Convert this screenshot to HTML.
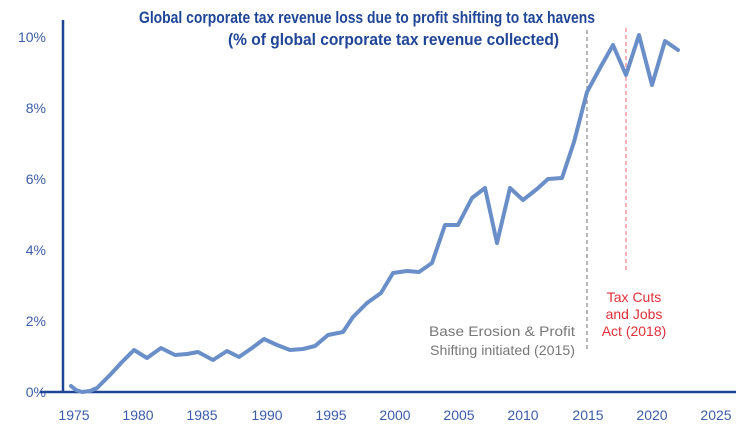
<!DOCTYPE html>
<html><head><meta charset="utf-8"><style>
html,body{margin:0;padding:0;background:#fff;}
svg{display:block;font-family:"Liberation Sans",sans-serif;}
</style></head><body>
<svg width="756" height="430" viewBox="0 0 756 430">
<g font-family="Liberation Sans, sans-serif" font-weight="bold" fill="#1f4596" font-size="16.5">
<text x="139" y="23" textLength="456" lengthAdjust="spacingAndGlyphs">Global corporate tax revenue loss due to profit shifting to tax havens</text>
<text x="228" y="45" textLength="331" lengthAdjust="spacingAndGlyphs">(% of global corporate tax revenue collected)</text>
</g>
<g fill="#3b5ca8" font-size="14" text-anchor="end">
<text x="46" y="42">10%</text>
<text x="46" y="113">8%</text>
<text x="46" y="184">6%</text>
<text x="46" y="255">4%</text>
<text x="46" y="326">2%</text>
<text x="46" y="397">0%</text>
</g>
<g fill="#3b5ca8" font-size="14" text-anchor="middle">
<text x="74" y="420">1975</text><text x="138" y="420">1980</text><text x="202" y="420">1985</text>
<text x="267" y="420">1990</text><text x="331" y="420">1995</text><text x="395" y="420">2000</text>
<text x="459" y="420">2005</text><text x="523" y="420">2010</text><text x="588" y="420">2015</text>
<text x="652" y="420">2020</text><text x="716" y="420">2025</text>
</g>
<line x1="587" y1="30" x2="587" y2="352" stroke="#888" stroke-width="1.2" stroke-dasharray="4,3"/>
<line x1="626" y1="28" x2="626" y2="272" stroke="#f08080" stroke-width="1.2" stroke-dasharray="4,3"/>
<g fill="#777" font-size="14">
<text x="429" y="336" textLength="146" lengthAdjust="spacingAndGlyphs">Base Erosion &amp; Profit</text>
<text x="430" y="355" textLength="145" lengthAdjust="spacingAndGlyphs">Shifting initiated (2015)</text>
</g>
<g fill="#e0303a" font-size="14" text-anchor="middle">
<text x="634" y="302">Tax Cuts</text>
<text x="634" y="319">and Jobs</text>
<text x="634" y="336">Act (2018)</text>
</g>
<line x1="63" y1="20" x2="63" y2="393" stroke="#1f4596" stroke-width="2.5"/>
<line x1="40" y1="392" x2="736" y2="392" stroke="#1f4596" stroke-width="2.5"/>
<polyline fill="none" stroke="#6a8fc8" stroke-width="4" stroke-linejoin="round" stroke-linecap="round"
points="71,386 76,390 82,392 90,391 97,388 110,375 122,362 134,350 147,358 161,348 175,355 187,354 198,352 213,360 227,351 239,357 252,348 264,339 277,345 290,350 303,349 315,346 328,335 343,332 353,317 367,303 381,293 393,273 407,271 419,272 432,263 445,225 458,225 472,198 485,188 497,243 510,188 523,200 537,189 548,179 562,178 574,142 587,92 600,68 613,45 626,75 639,35 652,85 665,41 678,50"/>
</svg>
</body></html>
